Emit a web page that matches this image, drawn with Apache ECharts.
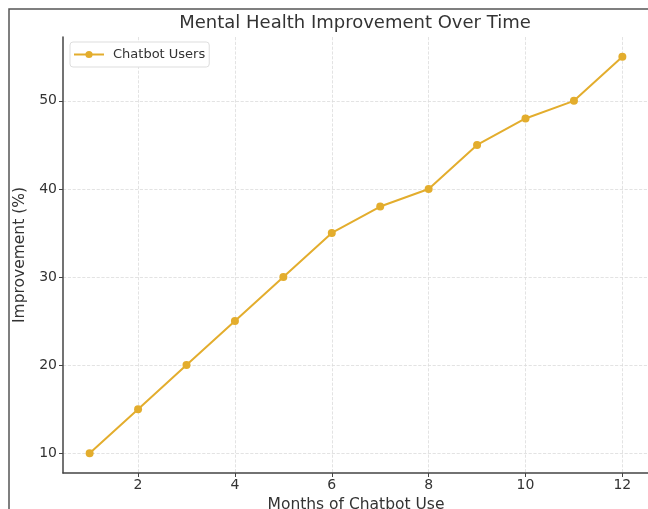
<!DOCTYPE html>
<html>
<head>
<meta charset="utf-8">
<script src="https://cdn.jsdelivr.net/npm/echarts@6/dist/echarts.min.js"></script>
<style>
  html, body { margin: 0; padding: 0; background: #fff; }
  #main { width: 648px; height: 509px; }
</style>
</head>
<body>
<div id="main"></div>
<script>
// months of chatbot use and the improvement
const months = [1, 2, 3, 4, 5, 6, 7, 8, 9, 10, 11, 12];
const improvement = [10, 15, 20, 25, 30, 35, 38, 40, 45, 48, 50, 55];
const xTicks = [2, 4, 6, 8, 10, 12];
const yTicks = [10, 20, 30, 40, 50];

const chart = echarts.init(document.getElementById('main'));
const color = '#e3ad2d';
const font = 'DejaVu Sans';

chart.setOption({
  animation: false,
  textStyle: { fontFamily: font },
  title: {
    text: 'Mental Health Improvement Over Time',
    left: 350,
    textAlign: 'center',
    top: 9,
    textStyle: { fontSize: 18, fontWeight: 'normal', color: '#333', fontFamily: font }
  },
  legend: {
    left: 70,
    top: 42,
    padding: [6, 4, 6, 3],
    borderColor: '#ddd',
    borderWidth: 1,
    borderRadius: 3,
    backgroundColor: '#fff',
    itemWidth: 30,
    itemHeight: 9,
    textStyle: { fontSize: 13, color: '#333', fontFamily: font, padding: [0, 0, 0, 4] },
    data: ['Chatbot Users']
  },
  grid: { left: 63, top: 37, right: -1, bottom: 36, outerBoundsMode: 'none', containLabel: false },
  xAxis: {
    type: 'value',
    min: 0.45,
    max: 12.55,
    name: 'Months of Chatbot Use',
    nameLocation: 'middle',
    nameGap: 23,
    nameTextStyle: { fontSize: 15.5, color: '#333', fontFamily: font },
    axisLine: { lineStyle: { color: '#444', width: 1.5 } },
    axisTick: { customValues: xTicks, length: 4, lineStyle: { color: '#444' } },
    axisLabel: { customValues: xTicks, fontSize: 14, color: '#333', margin: 5, fontFamily: font },
    splitLine: { show: true, lineStyle: { color: '#dcdcdc', type: 'dashed', width: 0.8 } }
  },
  yAxis: {
    type: 'value',
    min: 7.75,
    max: 57.25,
    name: 'Improvement (%)',
    nameLocation: 'middle',
    nameGap: 28,
    nameTextStyle: { fontSize: 15.5, color: '#333', fontFamily: font },
    axisLine: { show: true, lineStyle: { color: '#444', width: 1.5 } },
    axisTick: { show: true, customValues: yTicks, length: 4, lineStyle: { color: '#444' } },
    axisLabel: { customValues: yTicks, fontSize: 14, color: '#333', margin: 6, fontFamily: font },
    splitLine: { show: true, lineStyle: { color: '#dcdcdc', type: 'dashed', width: 0.8 } }
  },
  series: [
    {
      name: 'Chatbot Users',
      type: 'line',
      data: months.map((m, i) => [m, improvement[i]]),
      symbol: 'circle',
      symbolSize: 8,
      itemStyle: { color: color },
      lineStyle: { color: color, width: 2 }
    }
  ],
  graphic: [
    {
      type: 'rect',
      shape: { x: 9, y: 9, width: 660, height: 520 },
      style: { fill: null, stroke: '#555', lineWidth: 1.5 },
      silent: true
    }
  ]
});
</script>
</body>
</html>
